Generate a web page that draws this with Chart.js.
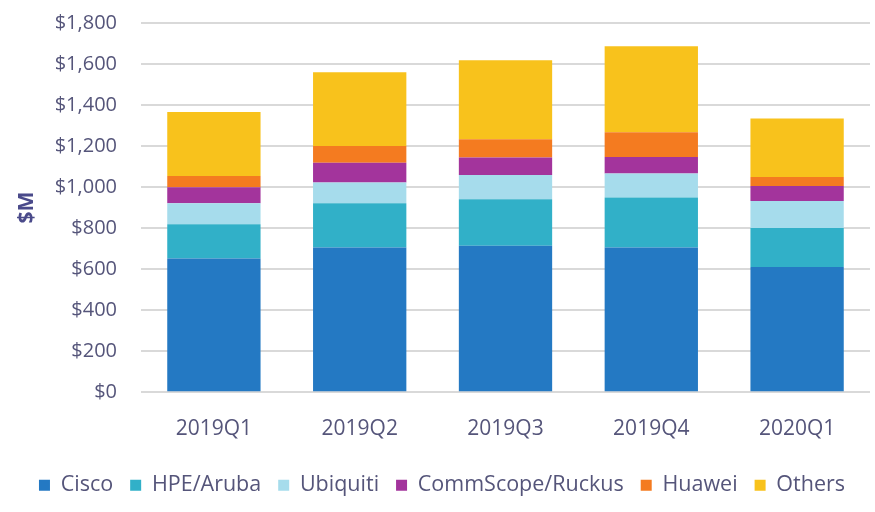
<!DOCTYPE html>
<html>
<head>
<meta charset="utf-8">
<script src="https://cdn.jsdelivr.net/npm/chart.js@4"></script>
<style>
html,body{margin:0;padding:0;background:#fff;}
#wrap{width:875px;height:512px;}
</style>
</head>
<body>
<div id="wrap"><canvas id="c" width="875" height="512"></canvas></div>
<script>
const categories = ["2019Q1","2019Q2","2019Q3","2019Q4","2020Q1"];
const cisco     = [652, 706, 714, 706, 611];
const hpeAruba  = [167, 215, 227, 243, 190];
const ubiquiti  = [102, 101, 118, 118, 132];
const commscope = [ 79,  97,  85,  80,  73];
const huawei    = [ 54,  81,  89, 121,  43];
const others    = [312, 360, 386, 419, 286];
const yTicks = [0,200,400,600,800,1000,1200,1400,1600,1800];

const seriesNames = ["Cisco","HPE/Aruba","Ubiquiti","CommScope/Ruckus","Huawei","Others"];
const seriesData = [cisco, hpeAruba, ubiquiti, commscope, huawei, others];
const colors = ["#2479c3","#31b0c8","#a6dcec","#a3349c","#f47b20","#f8c21c"];

Chart.defaults.font.family = "'Open Sans', sans-serif";
Chart.defaults.animation = false;

new Chart(document.getElementById('c'), {
  type: 'bar',
  data: {
    labels: categories,
    datasets: seriesData.map((d, i) => ({
      label: seriesNames[i],
      data: d,
      backgroundColor: colors[i],
      borderWidth: 0,
      barPercentage: 0.8,
      categoryPercentage: 0.8
    }))
  },
  options: {
    responsive: false,
    maintainAspectRatio: false,
    layout: { padding: { left: 14, right: 5, top: 23, bottom: 6 } },
    plugins: {
      tooltip: { enabled: false },
      legend: {
        position: 'bottom',
        labels: {
          boxWidth: 11, boxHeight: 11,
          padding: 17,
          color: '#55557a',
          font: { size: 21.5 }
        }
      }
    },
    scales: {
      x: {
        stacked: true,
        grid: { display: false },
        border: { display: false },
        ticks: { color: '#55557a', font: { size: 21 }, padding: 16 }
      },
      y: {
        stacked: true,
        min: 0, max: 1800,
        afterBuildTicks: (axis) => { axis.ticks = yTicks.map(v => ({ value: v })); },
        afterFit: (axis) => { axis.width = 127; axis.paddingTop = 0; axis.paddingBottom = 0; },
        grid: { color: '#d9d9d9', lineWidth: 2, drawTicks: false },
        border: { display: false },
        ticks: {
          color: '#55557a', font: { size: 20 }, padding: 24,
          callback: (v) => '$' + v.toLocaleString('en-US')
        },
        title: {
          display: true, text: '$M', color: '#4a4a8a',
          font: { size: 21, weight: 'bold' }, padding: { top: 0, bottom: 0 }
        }
      }
    }
  }
});
</script>
</body>
</html>
